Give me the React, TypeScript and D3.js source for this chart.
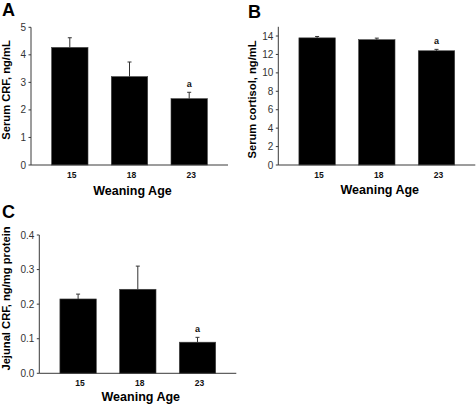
import React from "react";
import * as d3 from "d3";

const categories = ["15", "18", "23"];

const crfMeans = [4.27, 3.21, 2.41];
const crfErrors = [0.35, 0.53, 0.23];
const crfTicks = [0, 1, 2, 3, 4, 5];

const cortisolMeans = [13.8, 13.6, 12.4];
const cortisolErrors = [0.15, 0.17, 0.15];
const cortisolTicks = [0, 2, 4, 6, 8, 10, 12, 14];

const jejunalMeans = [0.215, 0.243, 0.09];
const jejunalErrors = [0.014, 0.067, 0.014];
const jejunalTicks = [0, 0.1, 0.2, 0.3, 0.4];

const significance = ["", "", "a"];

const panels = [
  {
    letter: "A", lx: 2, ly: 16,
    ylabel: "Serum CRF, ng/mL", ylabelX: 6, ylabelY: 90,
    means: crfMeans, errors: crfErrors, ticks: crfTicks, fmt: (v: number) => String(v),
    domainMax: 5, x0: 31, x1: 228, yTop: 27.3, yBottom: 165, titleOffset: 29.5,
  },
  {
    letter: "B", lx: 248, ly: 18,
    ylabel: "Serum cortisol, ng/mL", ylabelX: 252, ylabelY: 99.5,
    means: cortisolMeans, errors: cortisolErrors, ticks: cortisolTicks, fmt: (v: number) => String(v),
    domainMax: 15, x0: 278.3, x1: 475.3, yTop: 26.8, yBottom: 165, titleOffset: 29,
  },
  {
    letter: "C", lx: 2, ly: 218,
    ylabel: "Jejunal CRF, ng/mg protein", ylabelX: 5.5, ylabelY: 298.5,
    means: jejunalMeans, errors: jejunalErrors, ticks: jejunalTicks, fmt: d3.format(".1f"),
    domainMax: 0.4, x0: 39.3, x1: 236.3, yTop: 235, yBottom: 373.3, titleOffset: 27.2,
  },
];

const FONT = "'Liberation Sans', Arial, Helvetica, sans-serif";

function Panel({ p }: { p: (typeof panels)[number] }) {
  const x = d3
    .scaleBand<string>()
    .domain(categories)
    .range([p.x0, p.x1])
    .paddingInner(0.39)
    .paddingOuter(0.345);
  const y = d3.scaleLinear().domain([0, p.domainMax]).range([p.yBottom, p.yTop]);
  const bw = x.bandwidth();
  const axisColor = "#3a3a3a";
  return (
    <g>
      <text x={p.lx} y={p.ly} fontFamily={FONT} fontWeight="bold" fontSize={18} fill="#000">
        {p.letter}
      </text>
      {categories.map((c, i) => (
        <rect
          key={c}
          x={x(c)}
          y={y(p.means[i])}
          width={bw}
          height={y(0) - y(p.means[i])}
          fill="#000"
          stroke="#444"
          strokeWidth={0.6}
        />
      ))}
      {categories.map((c, i) => {
        const cx = (x(c) as number) + bw / 2;
        const top = y(p.means[i] + p.errors[i]);
        return (
          <g key={"e" + c} stroke="#333" strokeWidth={1}>
            <line x1={cx} x2={cx} y1={y(p.means[i])} y2={top} />
            <line x1={cx - 2} x2={cx + 2} y1={top} y2={top} />
          </g>
        );
      })}
      {categories.map((c, i) =>
        significance[i] ? (
          <text
            key={"s" + c}
            x={(x(c) as number) + bw / 2}
            y={y(p.means[i] + p.errors[i]) - 5}
            textAnchor="middle"
            fontFamily={FONT}
            fontWeight="bold"
            fontSize={9}
            fill="#111"
          >
            {significance[i]}
          </text>
        ) : null
      )}
      <line x1={p.x0} x2={p.x0} y1={p.yTop} y2={p.yBottom} stroke={axisColor} strokeWidth={1} />
      {p.ticks.map((t) => (
        <g key={"t" + t}>
          <line x1={p.x0 - 2.5} x2={p.x0} y1={y(t)} y2={y(t)} stroke={axisColor} strokeWidth={1} />
          <text
            x={p.x0 - 5}
            y={y(t)}
            dy="0.35em"
            textAnchor="end"
            fontFamily={FONT}
            fontSize={10}
            fill="#333"
          >
            {p.fmt(t)}
          </text>
        </g>
      ))}
      <line x1={p.x0} x2={p.x1} y1={p.yBottom} y2={p.yBottom} stroke={axisColor} strokeWidth={1} />
      {categories.map((c) => (
        <text
          key={"xl" + c}
          x={(x(c) as number) + bw / 2 + 2}
          y={p.yBottom + 12.5}
          textAnchor="middle"
          fontFamily={FONT}
          fontWeight="bold"
          fontSize={8.5}
          fill="#111"
        >
          {c}
        </text>
      ))}
      <text
        x={(x(categories[1]) as number) + bw / 2 + 3}
        y={p.yBottom + p.titleOffset}
        textAnchor="middle"
        fontFamily={FONT}
        fontWeight="bold"
        fontSize={12.5}
        fill="#000"
      >
        Weaning Age
      </text>
      <text
        transform={`translate(${p.ylabelX + 4},${p.ylabelY}) rotate(-90)`}
        textAnchor="middle"
        fontFamily={FONT}
        fontWeight="bold"
        fontSize={11.2}
        fill="#000"
      >
        {p.ylabel}
      </text>
    </g>
  );
}

export default function App() {
  return (
    <svg
      width={476}
      height={404}
      viewBox="0 0 476 404"
      style={{ position: "absolute", left: 0, top: 0, background: "#fff" }}
    >
      <rect x={0} y={0} width={476} height={404} fill="#fff" />
      {panels.map((p) => (
        <Panel key={p.letter} p={p} />
      ))}
    </svg>
  );
}
